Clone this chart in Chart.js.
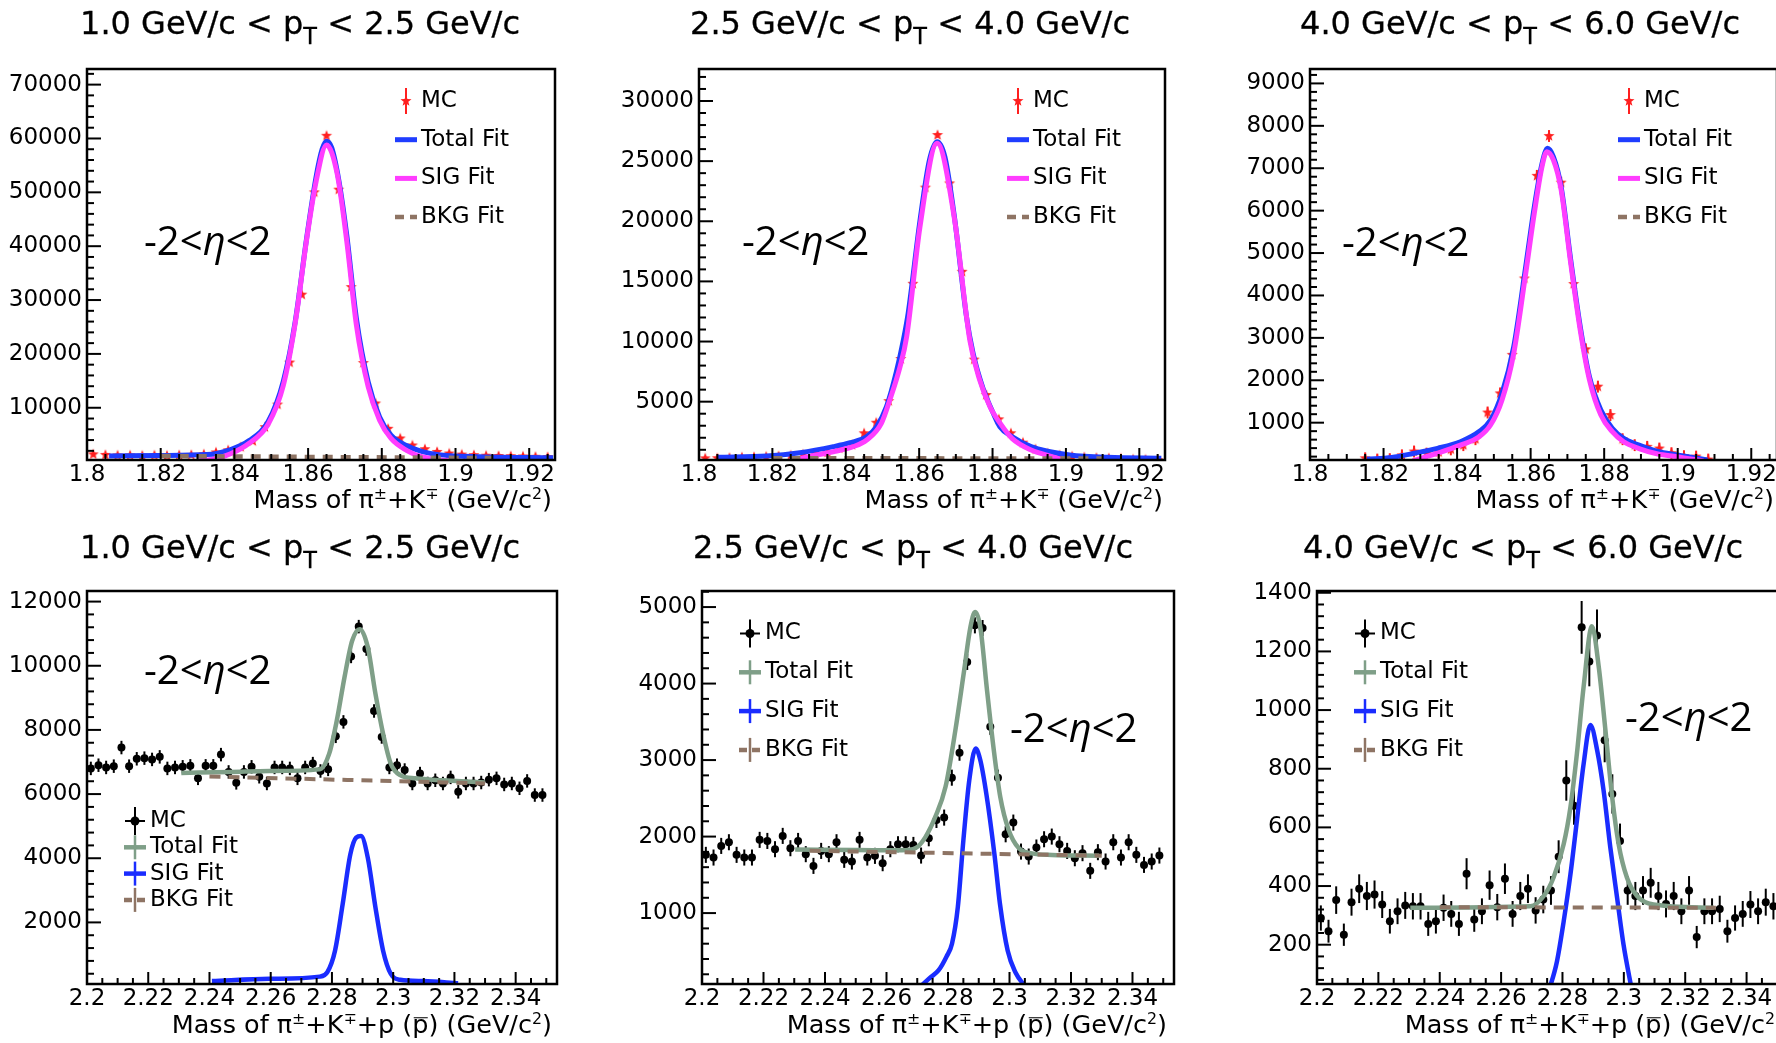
<!DOCTYPE html>
<html>
<head>
<meta charset="utf-8">
<title>D0 and Lambda_c invariant mass fits</title>
<script src="https://cdn.jsdelivr.net/npm/chart.js@4.4.0/dist/chart.umd.min.js"></script>
<style>
  html, body { margin: 0; padding: 0; background: #fff; }
  #page { position: relative; width: 1776px; height: 1043px; overflow: hidden; font-family: "DejaVu Sans", sans-serif; color: #000; }
  #page canvas { position: absolute; }
  .title { position: absolute; font-size: 32px; line-height: 1; white-space: nowrap; transform: translate(-50%, -50%); -webkit-text-stroke: 0.3px #000; }
  .title .sub { font-size: 0.7em; position: relative; top: 0.45em; }
  .axt { position: absolute; font-size: 25.5px; line-height: 1; white-space: nowrap; transform: translate(-100%, -50%); }
  .axt sup { font-size: 0.62em; vertical-align: 0; position: relative; top: -0.55em; }
  .axt .bar { position: relative; }
  .axt .bar::before { content: ""; position: absolute; left: 0.06em; right: 0.04em; top: 0.3em; border-top: 1.6px solid #000; }
  .eta { position: absolute; font-family: "Open Sans", sans-serif; font-size: 40px; line-height: 1; white-space: nowrap; transform: translateY(-50%); }
  .eta i { font-style: italic; }
</style>
</head>
<body>
<div id="page">
  <div class="title" style="left:300px;top:23px">1.0 GeV/c &lt; p<span class="sub">T</span> &lt; 2.5 GeV/c</div>
  <div class="title" style="left:910px;top:23px">2.5 GeV/c &lt; p<span class="sub">T</span> &lt; 4.0 GeV/c</div>
  <div class="title" style="left:1520px;top:23px">4.0 GeV/c &lt; p<span class="sub">T</span> &lt; 6.0 GeV/c</div>
  <div class="title" style="left:300px;top:547px">1.0 GeV/c &lt; p<span class="sub">T</span> &lt; 2.5 GeV/c</div>
  <div class="title" style="left:913px;top:547px">2.5 GeV/c &lt; p<span class="sub">T</span> &lt; 4.0 GeV/c</div>
  <div class="title" style="left:1523px;top:547px">4.0 GeV/c &lt; p<span class="sub">T</span> &lt; 6.0 GeV/c</div>

  <div class="axt" style="left:552px;top:500px">Mass of π<sup>±</sup>+K<sup>∓</sup> (GeV/c<sup>2</sup>)</div>
  <div class="axt" style="left:1163px;top:500px">Mass of π<sup>±</sup>+K<sup>∓</sup> (GeV/c<sup>2</sup>)</div>
  <div class="axt" style="left:1774px;top:500px">Mass of π<sup>±</sup>+K<sup>∓</sup> (GeV/c<sup>2</sup>)</div>
  <div class="axt" style="left:552px;top:1025px">Mass of π<sup>±</sup>+K<sup>∓</sup>+p (<span class="bar">p</span>) (GeV/c<sup>2</sup>)</div>
  <div class="axt" style="left:1167px;top:1025px">Mass of π<sup>±</sup>+K<sup>∓</sup>+p (<span class="bar">p</span>) (GeV/c<sup>2</sup>)</div>
  <div class="axt" style="left:1785px;top:1025px">Mass of π<sup>±</sup>+K<sup>∓</sup>+p (<span class="bar">p</span>) (GeV/c<sup>2</sup>)</div>
</div>

<script>
// ---- bin centres (GeV/c^2) ----
const binsD = [
  1.8017, 1.8050, 1.8083, 1.8117, 1.8150, 1.8183, 1.8217, 1.8250, 1.8283, 1.8317,
  1.8350, 1.8383, 1.8417, 1.8450, 1.8483, 1.8517, 1.8550, 1.8583, 1.8617, 1.8650,
  1.8683, 1.8717, 1.8750, 1.8783, 1.8817, 1.8850, 1.8883, 1.8917, 1.8950, 1.8983,
  1.9017, 1.9050, 1.9083, 1.9117, 1.9150, 1.9183, 1.9217, 1.9250
];
const binsLc = [
  2.20125, 2.20375, 2.20625, 2.20875, 2.21125, 2.21375, 2.21625, 2.21875, 2.22125, 2.22375,
  2.22625, 2.22875, 2.23125, 2.23375, 2.23625, 2.23875, 2.24125, 2.24375, 2.24625, 2.24875,
  2.25125, 2.25375, 2.25625, 2.25875, 2.26125, 2.26375, 2.26625, 2.26875, 2.27125, 2.27375,
  2.27625, 2.27875, 2.28125, 2.28375, 2.28625, 2.28875, 2.29125, 2.29375, 2.29625, 2.29875,
  2.30125, 2.30375, 2.30625, 2.30875, 2.31125, 2.31375, 2.31625, 2.31875, 2.32125, 2.32375,
  2.32625, 2.32875, 2.33125, 2.33375, 2.33625, 2.33875, 2.34125, 2.34375, 2.34625, 2.34875
];

// ---- D0 -> pi K, MC counts per bin ----
const mcD1 = [1350, 1250, 1150, 1150, 1100, 1150, 1100, 1200, 1250, 1350, 1700, 2100, 2700, 3800, 6400, 10600, 18400, 31000, 50000, 60500,
  50500, 32400, 18300, 10800, 6100, 4300, 3000, 2300, 1800, 1500, 1300, 1200, 1100, 1050, 1000, 950, 900, 850];
const mcD2 = [290, 300, 330, 370, 400, 430, 470, 520, 600, 650, 760, 1120, 1400, 2370, 3250, 5050, 8550, 14800, 22800, 27170,
  23150, 15800, 8500, 5550, 3530, 2370, 1590, 1040, 700, 550, 450, 380, 330, 300, 270, 200, 180, 160];
const mcD3 = [null, null, null, null, 160, 130, 140, 230, 320, 270, 300, 370, 470, 610, 1240, 1690, 2600, 4400, 6820, 7760,
  6660, 4270, 2730, 1850, 1180, 610, 470, 430, 390, 280, 210, 200, 130, null, null, null, null, null];

// ---- D0 fit curves, [mass, counts] ----
const totalD1 = [[1.806, 1060], [1.82, 1150], [1.8325, 1300], [1.8388, 2200], [1.844, 3900], [1.8492, 7500], [1.8533, 15000],
  [1.8565, 26000], [1.8596, 41500], [1.8622, 53000], [1.8638, 58000], [1.865, 59500], [1.8664, 58300], [1.8684, 52000],
  [1.8705, 42000], [1.8731, 26600], [1.8763, 14800], [1.8794, 8300], [1.8825, 4900], [1.8867, 3000], [1.8908, 1900],
  [1.896, 1250], [1.9065, 900], [1.9265, 700]];
const sigD1 = [[1.8299, 100], [1.8346, 500], [1.8388, 1400], [1.844, 3400], [1.8492, 7000], [1.8533, 14200], [1.8565, 25700],
  [1.8596, 41200], [1.8622, 52100], [1.865, 58800], [1.8679, 53400], [1.8705, 40900], [1.8731, 25400], [1.8763, 13900],
  [1.8794, 7700], [1.8825, 4300], [1.8867, 2100], [1.8908, 900], [1.895, 400], [1.8986, 100]];
const bkgD1 = [[1.82, 1050], [1.865, 850], [1.91, 650]];

const totalD2 = [[1.8052, 380], [1.8185, 480], [1.8275, 760], [1.8366, 1260], [1.8412, 1590], [1.8457, 2090], [1.8484, 2920],
  [1.8511, 4580], [1.8538, 7490], [1.8557, 10130], [1.857, 12350], [1.8602, 20000], [1.8628, 25090], [1.8649, 26620],
  [1.867, 25370], [1.8696, 20380], [1.8729, 12060], [1.8747, 9020], [1.8774, 6110], [1.8802, 4030], [1.882, 2920],
  [1.8853, 2100], [1.8905, 1260], [1.8957, 840], [1.901, 570], [1.9114, 370], [1.926, 290]];
const sigD2 = [[1.8248, 100], [1.8302, 450], [1.8366, 840], [1.842, 1256], [1.8457, 1810], [1.8497, 3200], [1.852, 5140],
  [1.8548, 7910], [1.8566, 10400], [1.8602, 19500], [1.8649, 26480], [1.8696, 20240], [1.8738, 10130], [1.8765, 6800],
  [1.8793, 4580], [1.882, 3230], [1.8853, 1950], [1.8905, 980], [1.8957, 480], [1.8999, 100]];
const bkgD2 = [[1.82, 300], [1.91, 270]];

const totalD3 = [[1.8155, 140], [1.8222, 180], [1.8284, 280], [1.8347, 395], [1.8409, 550], [1.846, 790], [1.8491, 1060],
  [1.8522, 1690], [1.8554, 2790], [1.8584, 4520], [1.861, 6090], [1.8631, 7110], [1.8646, 7470], [1.8662, 7270],
  [1.8683, 6560], [1.8709, 4840], [1.8735, 3260], [1.876, 2080], [1.8791, 1300], [1.8822, 870], [1.8853, 630],
  [1.8895, 470], [1.8946, 320], [1.8998, 240], [1.9081, 120]];
const sigD3 = [[1.8279, 100], [1.8347, 280], [1.8409, 470], [1.846, 670], [1.8491, 945], [1.8522, 1530], [1.8554, 2630],
  [1.8584, 4360], [1.861, 5940], [1.8631, 7040], [1.8644, 7390], [1.8662, 7190], [1.8683, 6490], [1.8709, 4760],
  [1.8735, 3180], [1.876, 2010], [1.8791, 1180], [1.8822, 790], [1.8853, 550], [1.8895, 390], [1.8946, 260],
  [1.8998, 200], [1.907, 100]];
const bkgD3 = [[1.82, 40], [1.91, 30]];

// ---- Lambda_c -> pi K p, MC counts per bin ----
const mcLc1 = [6800, 6900, 6830, 6870, 7450, 6870, 7100, 7120, 7080, 7160, 6800, 6830, 6850, 6880, 6490, 6880, 6880, 7230, 6690, 6350,
  6690, 6850, 6540, 6330, 6830, 6830, 6800, 6490, 6830, 6950, 6720, 6770, 7800, 8250, 10290, 11220, 10520, 8590, 7780, 6830,
  6900, 6750, 6330, 6640, 6330, 6430, 6330, 6520, 6070, 6330, 6330, 6360, 6450, 6490, 6300, 6330, 6180, 6410, 5970, 5970];
const mcLc2 = [1761, 1726, 1878, 1926, 1761, 1726, 1726, 1957, 1943, 1835, 2009, 1848, 1943, 1770, 1617, 1813, 1770, 1926, 1696, 1674,
  1957, 1726, 1748, 1652, 1835, 1900, 1900, 1891, 1752, 1978, 2217, 2248, 2770, 3096, 4283, 4761, 4726, 3435, 2770, 2030,
  2183, 1804, 1739, 1857, 1965, 2000, 1900, 1813, 1717, 1783, 1552, 1796, 1674, 1926, 1726, 1926, 1761, 1630, 1674, 1752];
const mcLc3 = [291, 246, 352, 234, 345, 391, 366, 371, 337, 280, 314, 334, 331, 331, 271, 280, 326, 305, 271, 442,
  286, 314, 403, 328, 425, 305, 366, 391, 317, 354, 385, 500, 760, 674, 1282, 1166, 1254, 897, 714, 554,
  385, 366, 385, 411, 366, 339, 366, 314, 385, 226, 314, 314, 322, 246, 291, 305, 337, 314, 345, 331];
const errLc3 = [43, 39, 47, 38, 46, 49, 48, 48, 46, 42, 44, 46, 45, 45, 41, 42, 45, 44, 41, 53,
  42, 44, 50, 45, 52, 44, 48, 49, 45, 47, 49, 56, 69, 65, 90, 85, 89, 75, 67, 59,
  49, 48, 49, 51, 48, 46, 48, 44, 49, 38, 44, 44, 45, 39, 43, 44, 46, 44, 46, 45];

// ---- Lambda_c fit curves ----
const totalLc1 = [[2.2308, 6660], [2.2471, 6690], [2.2596, 6720], [2.276, 6770], [2.2791, 7260], [2.2816, 8300], [2.2841, 9640],
  [2.2866, 10780], [2.2891, 11140], [2.2917, 10580], [2.2942, 9130], [2.2967, 7880], [2.2992, 6950], [2.3023, 6590],
  [2.3073, 6490], [2.3161, 6430], [2.33, 6360]];
const sigLc1 = [[2.2408, 170], [2.2596, 240], [2.276, 310], [2.2785, 450], [2.281, 1120], [2.2835, 2570], [2.286, 4120],
  [2.2879, 4640], [2.2895, 4690], [2.2917, 4020], [2.2942, 2470], [2.2967, 1120], [2.2992, 400], [2.3023, 210],
  [2.3099, 170], [2.3212, 105]];
const bkgLc1 = [[2.24, 6550], [2.285, 6440], [2.33, 6330]];

const totalLc2 = [[2.2303, 1830], [2.25, 1825], [2.265, 1820], [2.2695, 1850], [2.2726, 1990], [2.2759, 2260], [2.2792, 2650],
  [2.2824, 3390], [2.2851, 4130], [2.2873, 4740], [2.2888, 4935], [2.2905, 4740], [2.2927, 3910], [2.2949, 3130],
  [2.297, 2520], [2.2997, 2090], [2.303, 1850], [2.3073, 1780], [2.3138, 1760], [2.3291, 1750]];
const sigLc2 = [[2.2711, 40], [2.274, 150], [2.2769, 250], [2.2795, 430], [2.2813, 600], [2.2832, 1080], [2.285, 1950],
  [2.2869, 2730], [2.289, 3150], [2.2905, 3000], [2.2925, 2550], [2.2951, 1770], [2.2969, 1120], [2.2994, 510],
  [2.302, 220], [2.3051, 40]];
const bkgLc2 = [[2.235, 1815], [2.33, 1750]];

const totalLc3 = [[2.2304, 326], [2.2695, 331], [2.2739, 366], [2.2771, 429], [2.2804, 543], [2.2826, 669], [2.2847, 851],
  [2.2869, 1080], [2.2896, 1286], [2.2918, 1149], [2.294, 931], [2.2962, 703], [2.2983, 543], [2.301, 429],
  [2.3043, 366], [2.3097, 337], [2.3293, 326]];
const sigLc3 = [[2.2755, 40], [2.2782, 143], [2.2804, 280], [2.2826, 440], [2.2847, 623], [2.2869, 817], [2.2891, 949],
  [2.2913, 863], [2.2934, 726], [2.2956, 531], [2.2978, 360], [2.2999, 200], [2.3027, 40]];
const bkgLc3 = [[2.24, 328], [2.33, 326]];

// ---- axis labels ----
const xTicksD = [1.8, 1.82, 1.84, 1.86, 1.88, 1.9, 1.92];
const xTicksLc = [2.2, 2.22, 2.24, 2.26, 2.28, 2.3, 2.32, 2.34];
const yTicksD1 = [10000, 20000, 30000, 40000, 50000, 60000, 70000];
const yTicksD2 = [5000, 10000, 15000, 20000, 25000, 30000];
const yTicksD3 = [1000, 2000, 3000, 4000, 5000, 6000, 7000, 8000, 9000];
const yTicksLc1 = [2000, 4000, 6000, 8000, 10000, 12000];
const yTicksLc2 = [1000, 2000, 3000, 4000, 5000];
const yTicksLc3 = [200, 400, 600, 800, 1000, 1200, 1400];
const legendNames = ['MC', 'Total Fit', 'SIG Fit', 'BKG Fit'];

// ---- styling / layout ----
const COLORS = { bkg: '#8e7464' };
const STYLE = {
  D:  { mc: '#ff1f1f', total: '#1f3dff', sig: '#ff3dff', lineW: 5, bkgW: 4.5, bkgDash: [10, 8] },
  Lc: { mc: '#000000', total: '#7f9f88', sig: '#1a2cff', lineW: 4.5, bkgW: 4, bkgDash: [11, 8] }
};
const PAD = { left: 4, top: 28, right: 36, bottom: 4 };
const AXIS_Y_W = 96, AXIS_X_H = 40;
const LEG_D = { x: 319, text: 334, y: 32, dy: 38.7 };
const LEG_LC_LOW = { x: 48, text: 63, y: 230, dy: 26.3 };
const LEG_LC = { x: 48, text: 63, y: 42.5, dy: 38.8 };

const panels = [
  { kind: 'D', frame: [87, 69, 555, 460], x: [1.8, 1.927], y: [300, 72900], xTicks: xTicksD, yTicks: yTicksD1,
    xMajor: 0.02, xMinor: 0.005, yMajor: 10000, yMinor: 2000, bins: binsD, mc: mcD1, err: 350,
    total: totalD1, sig: sigD1, bkg: bkgD1, legend: LEG_D },
  { kind: 'D', frame: [699, 69, 1165, 460], x: [1.8, 1.927], y: [150, 32660], xTicks: xTicksD, yTicks: yTicksD2,
    xMajor: 0.02, xMinor: 0.005, yMajor: 5000, yMinor: 1000, bins: binsD, mc: mcD2, err: 200,
    total: totalD2, sig: sigD2, bkg: bkgD2, legend: LEG_D },
  { kind: 'D', frame: [1310, 69, 1777, 460], x: [1.8, 1.927], y: [120, 9340], xTicks: xTicksD, yTicks: yTicksD3,
    xMajor: 0.02, xMinor: 0.005, yMajor: 1000, yMinor: 200, bins: binsD, mc: mcD3, err: 140,
    total: totalD3, sig: sigD3, bkg: bkgD3, legend: LEG_D },
  { kind: 'Lc', frame: [87, 591, 557, 984], x: [2.2, 2.3535], y: [80, 12330], xTicks: xTicksLc, yTicks: yTicksLc1,
    xMajor: 0.02, xMinor: 0.005, yMajor: 2000, yMinor: 400, bins: binsLc, mc: mcLc1, err: 210,
    total: totalLc1, sig: sigLc1, bkg: bkgLc1, legend: LEG_LC_LOW },
  { kind: 'Lc', frame: [702, 591, 1174, 984], x: [2.2, 2.3535], y: [73, 5210], xTicks: xTicksLc, yTicks: yTicksLc2,
    xMajor: 0.02, xMinor: 0.005, yMajor: 1000, yMinor: 200, bins: binsLc, mc: mcLc2, err: 105,
    total: totalLc2, sig: sigLc2, bkg: bkgLc2, legend: LEG_LC },
  { kind: 'Lc', frame: [1317, 591, 1788, 984], x: [2.2, 2.3535], y: [66, 1406], xTicks: xTicksLc, yTicks: yTicksLc3,
    xMajor: 0.02, xMinor: 0.005, yMajor: 200, yMinor: 40, bins: binsLc, mc: mcLc3, err: errLc3,
    total: totalLc3, sig: sigLc3, bkg: bkgLc3, legend: LEG_LC }
];

const etaLabels = [[144, 240], [742, 240], [1342, 241], [144, 669], [1010, 727], [1625, 716]];

Chart.defaults.font.family = '"DejaVu Sans", sans-serif';
Chart.defaults.font.size = 23;
Chart.defaults.color = '#000';

// filled five-point star used as the MC marker on the D0 panels
function starImage(color, r) {
  const c = document.createElement('canvas');
  const s = Math.ceil(r * 2 + 2);
  c.width = c.height = s;
  const g = c.getContext('2d');
  g.fillStyle = color;
  g.beginPath();
  for (let k = 0; k < 10; k++) {
    const rad = k % 2 ? r * 0.42 : r;
    const a = -Math.PI / 2 + k * Math.PI / 5;
    g.lineTo(s / 2 + rad * Math.cos(a), s / 2 + rad * Math.sin(a));
  }
  g.closePath();
  g.fill();
  return c;
}
const STAR = starImage(STYLE.D.mc, 5.8);

// minor/major tick positions along an axis range
function axisMarks(min, max, minor, major) {
  const out = [];
  const k0 = Math.ceil(min / minor - 1e-6), k1 = Math.floor(max / minor + 1e-6);
  for (let k = k0; k <= k1; k++) {
    const v = k * minor;
    const r = v / major;
    out.push([v, Math.abs(r - Math.round(r)) < 1e-6]);
  }
  return out;
}

function drawFrame(chart, o) {
  const { ctx, chartArea: a, scales: { x, y } } = chart;
  ctx.save();
  ctx.strokeStyle = '#000';
  ctx.lineWidth = 2;
  axisMarks(x.min, x.max, o.xMinor, o.xMajor).forEach(([v, major]) => {
    const px = x.getPixelForValue(v);
    ctx.beginPath();
    ctx.moveTo(px, a.bottom);
    ctx.lineTo(px, a.bottom - (major ? 12 : 6));
    ctx.stroke();
  });
  axisMarks(y.min, y.max, o.yMinor, o.yMajor).forEach(([v, major]) => {
    const py = y.getPixelForValue(v);
    ctx.beginPath();
    ctx.moveTo(a.left, py);
    ctx.lineTo(a.left + (major ? 14 : 7), py);
    ctx.stroke();
  });
  ctx.lineWidth = 2.5;
  ctx.strokeRect(a.left, a.top, a.right - a.left, a.bottom - a.top);
  ctx.restore();
}

function hLine(ctx, x0, x1, y, color, w, dash) {
  ctx.beginPath();
  ctx.setLineDash(dash || []);
  ctx.strokeStyle = color;
  ctx.lineWidth = w;
  ctx.moveTo(x0, y);
  ctx.lineTo(x1, y);
  ctx.stroke();
  ctx.setLineDash([]);
}
function vLine(ctx, x, y0, y1, color, w) {
  ctx.beginPath();
  ctx.strokeStyle = color;
  ctx.lineWidth = w;
  ctx.moveTo(x, y0);
  ctx.lineTo(x, y1);
  ctx.stroke();
}

// legend key glyphs, ROOT style
function drawKey(ctx, kind, k, cx, cy) {
  const st = STYLE[kind];
  if (kind === 'D') {
    if (k === 0) {
      vLine(ctx, cx, cy - 13, cy + 13, st.mc, 2);
      ctx.drawImage(STAR, cx - STAR.width / 2, cy - STAR.height / 2);
    } else if (k === 1) hLine(ctx, cx - 11, cx + 11, cy, st.total, 5);
    else if (k === 2) hLine(ctx, cx - 11, cx + 11, cy, st.sig, 5);
    else hLine(ctx, cx - 11, cx + 11, cy, COLORS.bkg, 4.5, [9, 6]);
    return;
  }
  if (k === 0) {
    hLine(ctx, cx - 10, cx + 10, cy, st.mc, 2);
    vLine(ctx, cx, cy - 14, cy + 14, st.mc, 2);
    ctx.beginPath();
    ctx.fillStyle = st.mc;
    ctx.arc(cx, cy, 4.5, 0, Math.PI * 2);
    ctx.fill();
  } else {
    const color = k === 1 ? st.total : k === 2 ? st.sig : COLORS.bkg;
    hLine(ctx, cx - 11, cx + 11, cy, color, 4.5, k === 3 ? [8, 5] : null);
    vLine(ctx, cx, cy - 12, cy + 12, color, 2.5);
  }
}

function drawLegend(chart, o) {
  const { ctx, chartArea: a } = chart;
  const g = o.legend;
  ctx.save();
  ctx.font = '23px "DejaVu Sans"';
  ctx.textBaseline = 'middle';
  legendNames.forEach((name, k) => {
    const cy = a.top + g.y + k * g.dy;
    drawKey(ctx, o.kind, k, a.left + g.x, cy);
    ctx.fillStyle = '#000';
    ctx.fillText(name, a.left + g.text, cy);
  });
  ctx.restore();
}

const rootPad = {
  id: 'rootPad',
  beforeDatasetsDraw(chart) {
    // vertical error bars of the MC histogram
    const { ctx, chartArea: a, scales: { x, y } } = chart;
    ctx.save();
    ctx.beginPath();
    ctx.rect(a.left, a.top, a.right - a.left, a.bottom - a.top);
    ctx.clip();
    chart.data.datasets.forEach(ds => {
      if (ds.errors == null) return;
      ctx.strokeStyle = ds.borderColor;
      ctx.lineWidth = 2;
      ds.data.forEach((pt, i) => {
        if (pt.y == null) return;
        const e = Array.isArray(ds.errors) ? ds.errors[i] : ds.errors;
        const px = x.getPixelForValue(pt.x);
        ctx.beginPath();
        ctx.moveTo(px, y.getPixelForValue(pt.y - e));
        ctx.lineTo(px, y.getPixelForValue(pt.y + e));
        ctx.stroke();
      });
    });
    ctx.restore();
  },
  afterDraw(chart, args, opts) {
    drawFrame(chart, opts);
    drawLegend(chart, opts);
  }
};

function curve(pairs, color, width, dash) {
  return {
    data: pairs.map(([x, y]) => ({ x, y })),
    showLine: true,
    borderColor: color,
    borderWidth: width,
    borderDash: dash || [],
    pointRadius: 0,
    cubicInterpolationMode: 'monotone',
    fill: false,
    clip: 0
  };
}

function buildConfig(p) {
  const st = STYLE[p.kind];
  const mc = p.bins.map((x, i) => ({ x, y: p.mc[i] }));
  const mcSet = p.kind === 'D'
    ? { pointStyle: STAR, pointRadius: 6 }
    : { pointStyle: 'circle', pointRadius: 4 };
  return {
    type: 'scatter',
    data: {
      datasets: [
        curve(p.bkg, COLORS.bkg, st.bkgW, st.bkgDash),
        curve(p.sig, st.sig, st.lineW),
        curve(p.total, st.total, st.lineW),
        Object.assign({
          data: mc, showLine: false, backgroundColor: st.mc, borderColor: st.mc,
          borderWidth: 0, errors: p.err
        }, mcSet)
      ]
    },
    options: {
      responsive: false,
      maintainAspectRatio: false,
      animation: false,
      devicePixelRatio: 1,
      events: [],
      layout: { padding: PAD },
      plugins: {
        legend: { display: false },
        tooltip: { enabled: false },
        rootPad: {
          kind: p.kind, xMajor: p.xMajor, xMinor: p.xMinor, yMajor: p.yMajor, yMinor: p.yMinor,
          legend: p.legend
        }
      },
      scales: {
        x: {
          type: 'linear', min: p.x[0], max: p.x[1],
          grid: { display: false, drawTicks: false }, border: { display: false },
          ticks: { padding: 1, autoSkip: false, maxRotation: 0, callback: v => String(v) },
          afterBuildTicks: s => { s.ticks = p.xTicks.map(v => ({ value: v })); },
          afterFit: s => { s.height = AXIS_X_H; }
        },
        y: {
          type: 'linear', min: p.y[0], max: p.y[1],
          grid: { display: false, drawTicks: false }, border: { display: false },
          ticks: { padding: 5, autoSkip: false, callback: v => String(v) },
          afterBuildTicks: s => { s.ticks = p.yTicks.map(v => ({ value: v })); },
          afterFit: s => { s.width = AXIS_Y_W; }
        }
      }
    },
    plugins: [rootPad]
  };
}

function mountPanel(p) {
  const [L, T, R, B] = p.frame;
  const w = (R - L) + PAD.left + PAD.right + AXIS_Y_W;
  const h = (B - T) + PAD.top + PAD.bottom + AXIS_X_H;
  const canvas = document.createElement('canvas');
  canvas.width = w;
  canvas.height = h;
  canvas.style.width = w + 'px';
  canvas.style.height = h + 'px';
  const page = document.getElementById('page');
  page.insertBefore(canvas, page.firstChild);
  const chart = new Chart(canvas, buildConfig(p));
  let ca = chart.chartArea;
  const dw = (R - L) - (ca.right - ca.left), dh = (B - T) - (ca.bottom - ca.top);
  if (Math.abs(dw) > 0.5 || Math.abs(dh) > 0.5) {
    chart.resize(w + dw, h + dh);
    ca = chart.chartArea;
  }
  canvas.style.left = (L - ca.left) + 'px';
  canvas.style.top = (T - ca.top) + 'px';
}

panels.forEach(mountPanel);

// pseudorapidity window annotation on every panel
etaLabels.forEach(([x, y]) => {
  const d = document.createElement('div');
  d.className = 'eta';
  d.style.left = x + 'px';
  d.style.top = y + 'px';
  d.innerHTML = '-2&lt;<i>η</i>&lt;2';
  document.getElementById('page').appendChild(d);
});
</script>
</body>
</html>
